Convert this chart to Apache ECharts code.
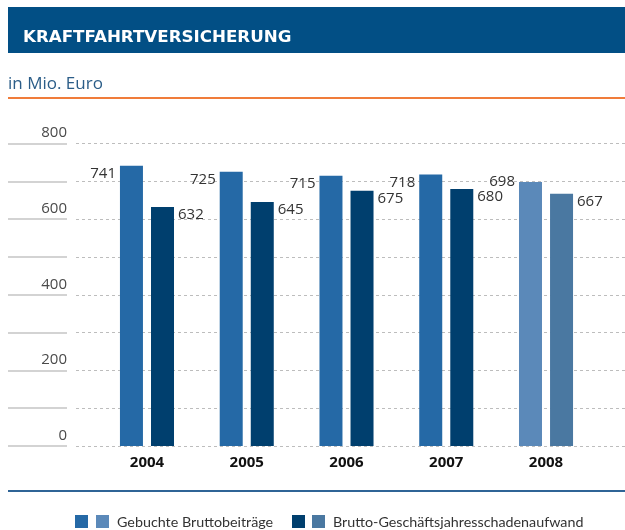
<!DOCTYPE html>
<html>
<head>
<meta charset="utf-8">
<script src="https://cdn.jsdelivr.net/npm/echarts@6/dist/echarts.min.js"></script>
<style>
  html, body { margin: 0; padding: 0; background: #fff; }
  #chart { width: 625px; height: 530px; }
</style>
</head>
<body>
<div id="chart"></div>
<script>
var years = ['2004', '2005', '2006', '2007', '2008'];
var bruttobeitraege = [741, 725, 715, 718, 698];
var schadenaufwand = [632, 645, 675, 680, 667];
var yTicks = [0, 200, 400, 600, 800];
var legendNames = ['Gebuchte Bruttobeiträge', 'Brutto-Geschäftsjahresschadenaufwand'];

var FONT = '"Open Sans", "Noto Sans", sans-serif';
var LFONT = 'Lato, "Open Sans", sans-serif';
var colA = '#2569a6', colA8 = '#5b89b9';   // Bruttobeiträge (2008 heller)
var colB = '#003f6e', colB8 = '#4a78a1';   // Schadenaufwand

var chart = echarts.init(document.getElementById('chart'));

// 2008 hat hellere Farben, Beschriftung links etwas höher
function mkData(vals, c, c8, lastLabel) {
    return vals.map(function (v, i) {
        var last = i === vals.length - 1;
        var d = { value: v, itemStyle: { color: last ? c8 : c } };
        if (last && lastLabel) d.label = lastLabel;
        return d;
    });
}

var yCommon = { type: 'value', min: 0, max: 800, interval: 100 };
var gTop = 143.5, gBottom = 84;

var option = {
    animation: false,
    grid: [
        { left: 76, right: 0, top: gTop, bottom: gBottom },          // gestrichelte Linien
        { left: 8, width: 59, top: gTop, bottom: gBottom },          // linke Linien + Beschriftung
        { left: 97.1, width: 498.8, top: gTop, bottom: gBottom }     // Balken
    ],
    xAxis: [
        { type: 'value', gridIndex: 0, show: false },
        { type: 'value', gridIndex: 1, show: false },
        {
            type: 'category', gridIndex: 2, data: years,
            axisLine: { show: false }, axisTick: { show: false },
            axisLabel: { margin: 9, color: '#111', fontWeight: 'bold', fontSize: 15, fontFamily: FONT }
        }
    ],
    yAxis: [
        Object.assign({ gridIndex: 0, axisLabel: { show: false }, axisLine: { show: false }, axisTick: { show: false },
            splitLine: { lineStyle: { color: '#bdbdbd', type: [3, 3], width: 1 } } }, yCommon),
        Object.assign({ gridIndex: 1, position: 'right', axisLine: { show: false }, axisTick: { show: false },
            splitLine: { lineStyle: { color: '#c4c4c4', width: 1.5 } },
            axisLabel: {
                inside: true, margin: 0, align: 'right', verticalAlign: 'bottom',
                color: '#4a4a4a', fontSize: 15, fontFamily: FONT, padding: [0, 0, 3, 0],
                formatter: function (v) { return yTicks.indexOf(v) >= 0 ? String(v) : ''; }
            } }, yCommon),
        Object.assign({ gridIndex: 2, show: false, splitLine: { show: false } }, yCommon)
    ],
    series: [
        {
            name: legendNames[0], type: 'bar', xAxisIndex: 2, yAxisIndex: 2,
            barWidth: 23, barGap: '35%',
            data: mkData(bruttobeitraege, colA, colA8, { position: [-4, 0] }),
            label: { show: true, position: [-4, 8], align: 'right', verticalAlign: 'middle',
                color: '#333', fontSize: 15, fontFamily: FONT }
        },
        {
            name: legendNames[1], type: 'bar', xAxisIndex: 2, yAxisIndex: 2,
            barWidth: 23, barGap: '35%',
            data: mkData(schadenaufwand, colB, colB8),
            label: { show: true, position: [27, 8], align: 'left', verticalAlign: 'middle',
                color: '#333', fontSize: 15, fontFamily: FONT }
        }
    ],
    graphic: [
        // Kopfbalken
        { type: 'rect', shape: { x: 8, y: 7, width: 617, height: 46 }, style: { fill: '#024f85' } },
        { type: 'text', x: 23, y: 38, style: { text: 'KRAFTFAHRTVERSICHERUNG', fill: '#fff',
            font: 'bold 16.7px "DejaVu Sans", sans-serif', verticalAlign: 'middle' } },
        { type: 'text', x: 8, y: 84, style: { text: 'in Mio. Euro', fill: '#2b5d88',
            font: '17px ' + FONT, verticalAlign: 'middle' } },
        { type: 'rect', shape: { x: 8, y: 97, width: 617, height: 2 }, style: { fill: '#f07c3a' } },
        // untere Linie
        { type: 'rect', shape: { x: 8, y: 490, width: 617, height: 2 }, style: { fill: '#2f6496' } },
        // Legende
        { type: 'rect', shape: { x: 75, y: 515, width: 13, height: 13 }, style: { fill: colA } },
        { type: 'rect', shape: { x: 96, y: 515, width: 13, height: 13 }, style: { fill: colA8 } },
        { type: 'text', x: 117, y: 522, style: { text: legendNames[0], fill: '#333',
            font: '14.3px ' + LFONT, verticalAlign: 'middle' } },
        { type: 'rect', shape: { x: 292, y: 515, width: 13, height: 13 }, style: { fill: colB } },
        { type: 'rect', shape: { x: 312, y: 515, width: 13, height: 13 }, style: { fill: colB8 } },
        { type: 'text', x: 333, y: 522, style: { text: legendNames[1], fill: '#333',
            font: '14.3px ' + LFONT, verticalAlign: 'middle' } }
    ]
};
chart.setOption(option);
</script>
</body>
</html>
